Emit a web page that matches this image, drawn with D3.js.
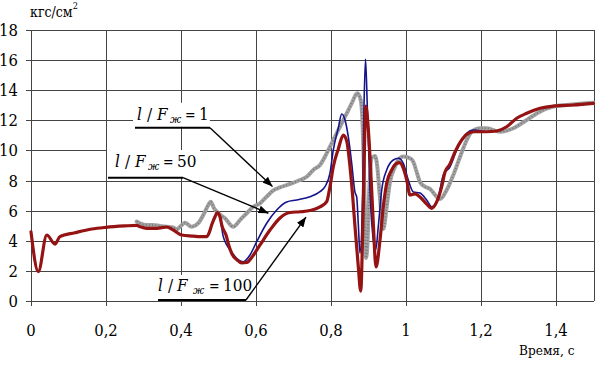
<!DOCTYPE html>
<html><head><meta charset="utf-8">
<script src="https://cdn.jsdelivr.net/npm/d3@7"></script>
<style>
body{margin:0;background:#fff}
svg{display:block}
</style>
</head><body>
<svg id="chart" width="595" height="366" font-family="'DejaVu Serif Condensed', 'DejaVu Serif', serif"></svg>
<script>
// ---- axis ticks ----
const xTicks = [0, 0.2, 0.4, 0.6, 0.8, 1, 1.2, 1.4];
const xTickLabels = ["0", "0,2", "0,4", "0,6", "0,8", "1", "1,2", "1,4"];
const yTicks = [0, 2, 4, 6, 8, 10, 12, 14, 16, 18];
const yTickLabels = ["0", "2", "4", "6", "8", "10", "12", "14", "16", "18"];
const xLabel = "Время, с";
const yLabel = "кгс/см";
const yLabelSup = "2";

// ---- series: l/Fж = 100 (dark red) ----
const redT = [0, 0.0195, 0.042, 0.064, 0.077, 0.117, 0.162, 0.2, 0.25, 0.282,
  0.2907, 0.3085, 0.3352, 0.3619, 0.3795, 0.4019, 0.4328, 0.4507, 0.4685, 0.4747, 0.4827, 0.4907, 0.4968,
  0.504, 0.5093, 0.52, 0.528, 0.536, 0.5493, 0.5619, 0.5752, 0.5893, 0.6107, 0.6373, 0.664, 0.6907,
  0.7173, 0.744, 0.7707, 0.7885, 0.7973, 0.8061, 0.8195, 0.8328, 0.8419, 0.8507, 0.8579, 0.864, 0.8728,
  0.8792, 0.8861, 0.8928, 0.8987, 0.904, 0.9128, 0.92, 0.9307, 0.9395, 0.9485, 0.9619, 0.9752, 0.984,
  0.9928, 1.0019, 1.0107, 1.024, 1.0373, 1.0552, 1.0685, 1.0819, 1.0952, 1.104, 1.1173, 1.1307, 1.1485,
  1.1661, 1.184, 1.2152, 1.2419, 1.2685, 1.2952, 1.3219, 1.3573, 1.3928, 1.4461, 1.5];
const redP = [4.6, 1.96, 4.39, 3.79, 4.28, 4.54, 4.79, 4.90, 4.99, 5.03,
  4.94, 4.83, 4.83, 4.92, 4.72, 4.39, 4.32, 4.28, 4.28, 4.52, 5.12, 5.60, 5.88,
  5.60, 4.99, 4.39, 3.66, 3.13, 2.74, 2.54, 2.57, 2.93, 3.73, 4.72, 5.52, 5.88,
  5.93, 6.01, 6.25, 6.60, 7.59, 8.91, 10.09, 11.01, 10.62, 8.91, 6.93, 4.94, 2.29,
  0.68, 6.26, 12.93, 11.68, 9.58, 5.17, 2.27, 4.06, 6.26, 7.81, 8.70, 9.14, 9.19,
  8.81, 8.03, 7.04, 7.11, 6.91, 6.44, 6.16, 6.58, 7.59, 8.56, 9.09, 9.89, 10.68,
  11.13, 11.23, 11.23, 11.28, 11.56, 12.12, 12.45, 12.78, 12.93, 13.0, 13.11];

// ---- series: l/Fж = 50 (blue) ----
const blueT = [0, 0.0195, 0.042, 0.064, 0.077, 0.117, 0.162, 0.2, 0.25, 0.282,
  0.2907, 0.3085, 0.3352, 0.3619, 0.3795, 0.4019, 0.4328, 0.4507, 0.4685, 0.4747, 0.4827, 0.4907, 0.4968,
  0.504, 0.5128, 0.5219, 0.5307, 0.5485, 0.5661, 0.584, 0.6019, 0.6285, 0.6552, 0.6819, 0.7085, 0.744,
  0.7707, 0.784, 0.7973, 0.8061, 0.8195, 0.8285, 0.8373, 0.8461, 0.8552, 0.864, 0.8685, 0.8728, 0.8773,
  0.8845, 0.888, 0.892, 0.8968, 0.904, 0.9128, 0.9192, 0.9261, 0.9352, 0.9485, 0.9661, 0.9795, 0.9928,
  1.0061, 1.0195, 1.0373, 1.0552, 1.0685, 1.0861, 1.0995, 1.1173, 1.1352, 1.1619, 1.1795, 1.2152,
  1.2419, 1.2685, 1.2952, 1.3219, 1.3573, 1.3928, 1.4461, 1.5];
const blueP = [4.6, 1.96, 4.39, 3.79, 4.28, 4.54, 4.79, 4.90, 4.99, 5.03,
  4.94, 4.83, 4.83, 4.92, 4.72, 4.39, 4.32, 4.28, 4.28, 4.52, 5.12, 5.60, 5.88,
  5.52, 4.28, 3.73, 3.40, 2.85, 2.62, 3.07, 3.95, 5.17, 6.05, 6.58, 6.71, 6.93,
  7.26, 7.59, 8.48, 10.02, 11.48, 12.40, 12.01, 10.90, 9.14, 7.21, 6.91, 5.12, 3.18,
  7.37, 12.89, 16.05, 12.89, 7.37, 4.06, 3.40, 4.94, 7.37, 8.70, 9.36, 9.47, 9.14,
  8.03, 7.24, 7.17, 6.71, 6.26, 6.93, 8.36, 8.91, 10.02, 11.13, 11.34, 11.23,
  11.28, 11.56, 12.12, 12.45, 12.78, 12.93, 13.0, 13.11];

// ---- series: l/Fж = 1 (gray) ----
const grayT = [0.2819, 0.2907, 0.3085, 0.3253, 0.344, 0.3619, 0.3795, 0.3885, 0.4019, 0.4107, 0.4285,
  0.4461, 0.4595, 0.4728, 0.4792, 0.488, 0.4995, 0.5173, 0.5395, 0.5573, 0.5752, 0.5928, 0.6107, 0.6285,
  0.6461, 0.664, 0.6907, 0.7173, 0.7352, 0.7528, 0.7707, 0.7885, 0.8061, 0.824, 0.8419, 0.8552, 0.8701,
  0.8792, 0.8845, 0.888, 0.8907, 0.8933, 0.8968, 0.9021, 0.9085, 0.9173, 0.9235, 0.9288, 0.9352, 0.9395,
  0.9485, 0.9573, 0.9707, 0.984, 0.9928, 1.0107, 1.0195, 1.0285, 1.0373, 1.0507, 1.064, 1.0819, 1.0907,
  1.1085, 1.1261, 1.144, 1.1619, 1.1752, 1.1973, 1.2152, 1.2507, 1.2861, 1.3219, 1.3573, 1.3928, 1.4285, 1.5];
const grayP = [5.28, 5.17, 5.05, 5.05, 4.99, 4.94, 4.89, 4.77, 5.05, 5.21, 4.94,
  5.17, 5.72, 6.38, 6.60, 6.16, 5.83, 5.50, 4.94, 5.38, 5.83, 6.26, 6.49, 6.93,
  7.34, 7.54, 7.77, 8.03, 8.25, 8.70, 9.03, 9.80, 10.68, 11.56, 12.45, 13.11, 13.77,
  13.33, 11.56, 8.48, 5.17, 2.87, 3.62, 7.37, 9.49, 9.62, 8.91, 7.37, 5.60, 4.79,
  6.26, 7.90, 8.91, 9.49, 9.59, 9.47, 9.23, 8.56, 7.90, 7.59, 7.44, 6.93, 6.77,
  7.37, 8.36, 9.56, 10.68, 11.23, 11.46, 11.46, 11.23, 11.46, 12.01, 12.56, 12.89, 13.0, 13.15];

// ---- annotation labels ----
const annNumbers = ["1", "50", "100"];

const svg = d3.select("#chart");
const x = d3.scaleLinear().domain([0, 1.5]).range([31, 593.5]);
const y = d3.scaleLinear().domain([0, 18]).range([301.3, 29.5]);

// grid
const grid = svg.append("g").attr("shape-rendering", "crispEdges").attr("stroke", "#444").attr("stroke-width", 1);
grid.selectAll("line.h").data(yTicks).join("line")
  .attr("x1", x(0) - 5).attr("x2", x(1.5))
  .attr("y1", d => Math.round(y(d)) + 0.5).attr("y2", d => Math.round(y(d)) + 0.5);
grid.selectAll("line.v").data(xTicks.concat([1.5])).join("line")
  .attr("x1", d => Math.round(x(d)) + 0.5).attr("x2", d => Math.round(x(d)) + 0.5)
  .attr("y1", y(18)).attr("y2", d => d === 1.5 ? y(0) : y(0) + 5);

// tick labels
svg.append("g").selectAll("text").data(yTicks).join("text")
  .attr("x", 18).attr("y", d => y(d) + 6).attr("text-anchor", "end")
  .attr("font-size", 16.5).text((d, i) => yTickLabels[i]);
svg.append("g").selectAll("text").data(xTicks).join("text")
  .attr("x", d => x(d)).attr("y", 336).attr("text-anchor", "middle")
  .attr("font-size", 16.5).text((d, i) => xTickLabels[i]);

// axis titles
const yt = svg.append("text").attr("x", 30).attr("y", 17).attr("font-size", 14);
yt.append("tspan").text(yLabel);
yt.append("tspan").attr("font-size", 9).attr("dy", -8).text(yLabelSup);
svg.append("text").attr("x", 519).attr("y", 355).attr("font-size", 13.5).text(xLabel);

// white label boxes (hide grid behind annotations)
const boxes = [
  {t0: 0.272, t1: 0.477, p0: 13.15, p1: 11.55},
  {t0: 0.2027, t1: 0.4507, p0: 10.02, p1: 8.23},
  {t0: 0.3307, t1: 0.584, p0: 1.74, p1: 0.15}
];
svg.append("g").selectAll("rect").data(boxes).join("rect")
  .attr("x", d => x(d.t0)).attr("width", d => x(d.t1) - x(d.t0))
  .attr("y", d => y(d.p0)).attr("height", d => y(d.p1) - y(d.p0))
  .attr("fill", "#fff");

// series
const line = d3.line().curve(d3.curveMonotoneX);
function pts(T, P) { return T.map((t, i) => [x(t), y(P[i])]); }
const plot = svg.append("g").attr("fill", "none").attr("stroke-linejoin", "round").attr("stroke-linecap", "round");
plot.append("path").attr("d", line(pts(grayT, grayP))).attr("stroke", "#a2a2a2").attr("stroke-width", 4);
plot.append("path").attr("d", line(pts(grayT, grayP))).attr("stroke", "#777").attr("stroke-width", 1.8)
  .attr("stroke-dasharray", "1,2.2").attr("stroke-linecap", "butt");
plot.append("path").attr("d", line(pts(blueT, blueP))).attr("stroke", "#14148c").attr("stroke-width", 1.6);
plot.append("path").attr("d", line(pts(redT, redP))).attr("stroke", "#961313").attr("stroke-width", 3.2);

// annotations (positions in data units)
const anns = [
  {tx: 0.2827, bp: 12.0, u0: 0.2773, u1: 0.4773, up: 11.5, at: 0.644, ap: 7.6},
  {tx: 0.224, bp: 8.89, u0: 0.2053, u1: 0.4053, up: 8.19, at: 0.6333, ap: 5.83},
  {tx: 0.3387, bp: 0.68, u0: 0.3387, u1: 0.5733, up: 0.086, at: 0.7333, ap: 5.58}
];
const defs = svg.append("defs");
defs.append("marker").attr("id", "ah").attr("viewBox", "0 0 10 8").attr("refX", 10).attr("refY", 4)
  .attr("markerWidth", 10).attr("markerHeight", 8).attr("markerUnits", "userSpaceOnUse").attr("orient", "auto")
  .append("path").attr("d", "M0,0 L10,4 L0,8 Z").attr("fill", "#000");

const ag = svg.append("g");
anns.forEach((a, i) => {
  const x0 = x(a.tx), yb = y(a.bp);
  const offs = i === 2 ? [0, 10, 19, 35, 51, 65] : [0, 10, 20, 33, 48, 62];
  const t = ag.append("text").attr("font-size", 17).attr("y", yb);
  t.append("tspan").attr("x", x0 + offs[0]).attr("font-style", "italic").text("l");
  t.append("tspan").attr("x", x0 + offs[1]).text("/");
  t.append("tspan").attr("x", x0 + offs[2]).attr("font-style", "italic").text("F");
  t.append("tspan").attr("x", x0 + offs[3]).attr("dy", 3).attr("font-size", 11).attr("font-style", "italic").text("ж");
  t.append("tspan").attr("x", x0 + offs[4]).attr("dy", -3).attr("font-size", 14).text("=");
  t.append("tspan").attr("x", x0 + offs[5]).text(annNumbers[i]);
  ag.append("line").attr("x1", x(a.u0)).attr("x2", x(a.u1)).attr("y1", y(a.up)).attr("y2", y(a.up))
    .attr("stroke", "#000").attr("stroke-width", 2);
  ag.append("line").attr("x1", x(a.u1)).attr("y1", y(a.up)).attr("x2", x(a.at)).attr("y2", y(a.ap))
    .attr("stroke", "#000").attr("stroke-width", 1.4).attr("marker-end", "url(#ah)");
});
</script>
</body></html>
